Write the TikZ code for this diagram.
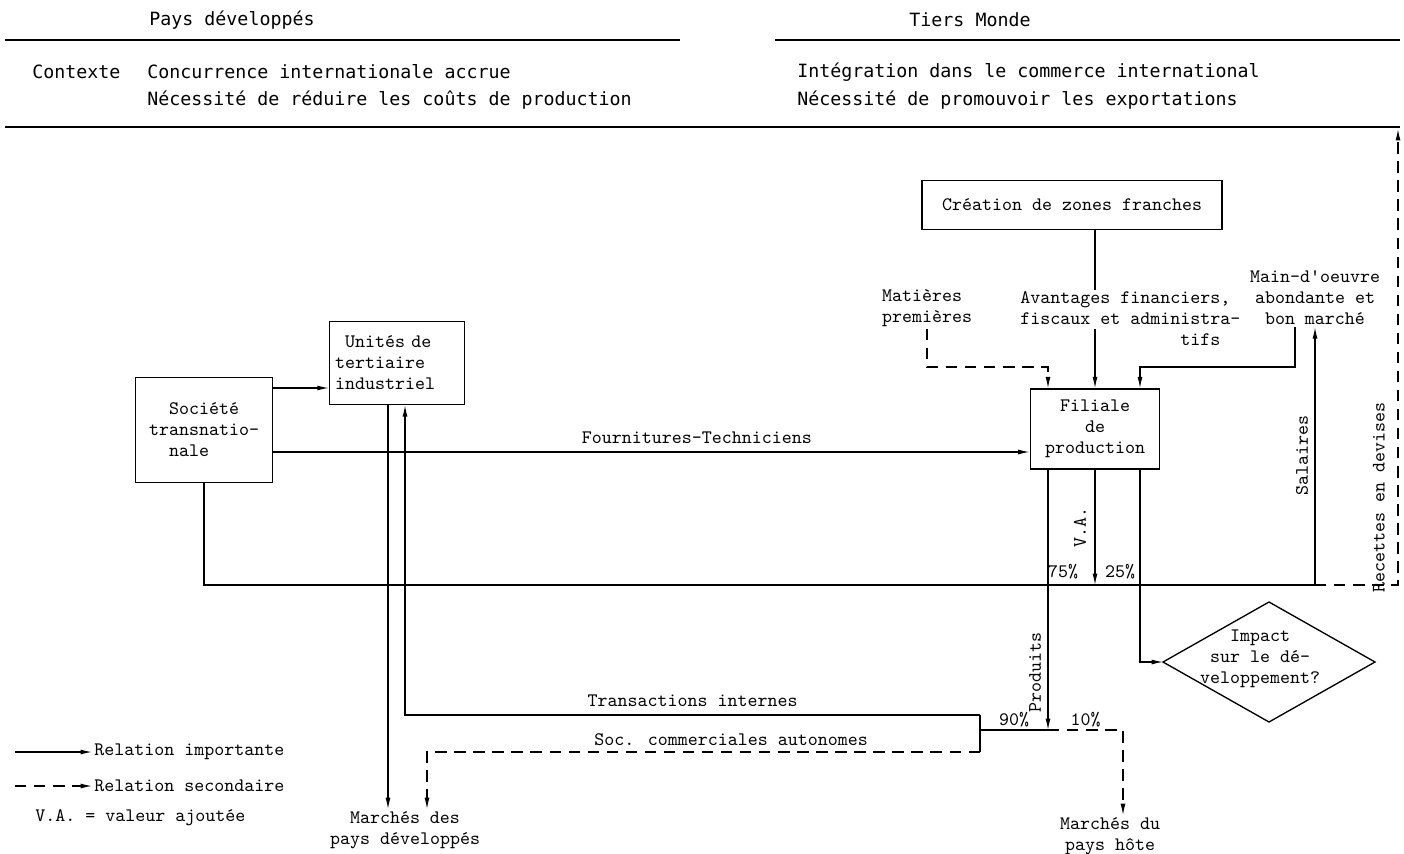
\documentclass[tikz,border=0pt]{standalone}
\usepackage{fontspec}
\usetikzlibrary{arrows.meta,positioning,shapes.geometric}
\newfontfamily\headfont{DejaVu Sans Mono}
\tikzset{
  rel/.style={black, -{Latex[length=6pt,width=2.6pt]}, line width=0.6pt},
  relsec/.style={rel, dash pattern=on 6pt off 4pt},
  link/.style={black, line width=0.6pt},
  rulebar/.style={black, line width=0.9pt},
  boxnode/.style={draw, line width=0.7pt, font=\ttfamily\fontsize{10}{11}\selectfont, inner sep=3pt},
  txtnode/.style={font=\ttfamily\fontsize{10}{11}\selectfont, inner sep=1pt},
  headnode/.style={font=\headfont\fontsize{9.6}{12}\selectfont, inner sep=1pt}
}
\begin{document}
\begin{tikzpicture}[x=0.525pt, y=-0.525pt]
  \useasboundingbox (0,0) rectangle (1404,853);
  % en-tete
  \node[headnode] (pays) at (232,20) {Pays développés};
  \node[headnode] (tiers) at (970,20) {Tiers Monde};
  \node[headnode, anchor=west] (contexte) at (30,72) {Contexte};
  \node[headnode, anchor=west] (concur) at (145,72) {Concurrence internationale accrue};
  \node[headnode, anchor=west] (reduire) at (145,100) {Nécessité de réduire les coûts de production};
  \node[headnode, anchor=west] (integr) at (795,72) {Intégration dans le commerce international};
  \node[headnode, anchor=west] (promouv) at (795,100) {Nécessité de promouvoir les exportations};
  \draw[rulebar] (5,40) -- (680,40);
  \draw[rulebar] (775,40) -- (1400,40);
  \draw[rulebar] (5,127) -- (1400,127);

  % blocs
  \node[boxnode, minimum width=72pt, minimum height=55pt, align=left] (societe) at (204,430) {\phantom{tr}Société\\transnatio-\\\phantom{tr}nale};
  \node[boxnode, text width=65pt, minimum height=43.6pt, align=left] (unites) at (397,363) {\phantom{t}Unités de\\tertiaire\\industriel};
  \node[boxnode, minimum width=68pt, minimum height=42pt, align=center] (filiale) at (1095,429) {Filiale\\de\\production};
  \node[boxnode, minimum width=157.5pt, minimum height=26pt] (creation) at (1072,205) {Création de zones franches};
  \node[txtnode, align=center] (impact) at (1260,659) {Impact\\sur le dé-\\veloppement?};
  \draw[line width=0.7pt] (impact.center) ++(-97,3) coordinate (impactw) -- ++(106,-60) -- ++(106,60) -- ++(-106,60) -- cycle;

  % textes libres
  \node[txtnode, align=left] (matieres) at (927,308) {Matières\\premières};
  \node[txtnode, align=left, anchor=west] (avantages) at (1018,319) {Avantages financiers,\\fiscaux et administra-\\\phantom{fiscaux et admin}tifs};
  \node[txtnode, align=center] (maindoeuvre) at (1315,298) {Main-d'oeuvre\\abondante et\\bon marché};
  \node[txtnode, align=center] (marchesdev) at (405,830) {Marchés des\\pays développés};
  \node[txtnode, align=center] (marcheshote) at (1110,836) {Marchés du\\pays hôte};
  \node[txtnode, rotate=90] (va) at (1080,527) {V.A.};
  \node[txtnode, rotate=90] (produits) at (1035,672) {Produits};
  \node[txtnode, rotate=90] (salaires) at (1302,455) {Salaires};
  \node[txtnode, rotate=90] (recettes) at (1379,497) {Recettes en devises};
  \node[txtnode] (pct75) at (1063,572) {75\%};
  \node[txtnode] (pct25) at (1120,572) {25\%};

  \coordinate (salfoot) at (1315,585);
  \coordinate (recfoot) at (1398,585);
  \coordinate (rectop) at (1398,129);
  \coordinate (prodfoot) at (1048,730);
  \coordinate (split) at (980,730);
  \coordinate (transfoot) at (980,715);
  \coordinate (socfoot) at (980,752);

  % liaisons
  \draw[rel] (societe.east |- 0,388) -- (unites.west |- 0,388);
  \draw[rel] (societe.east |- 0,452) -- node[txtnode, above=3pt, pos=0.56] (fourn) {Fournitures-Techniciens} (filiale.west |- 0,452);
  \draw[link] (societe.south) |- (salfoot);
  \draw[rel] (salfoot) -- (salfoot |- maindoeuvre.south);
  \draw[relsec] (salfoot) -- (recfoot) -- (rectop);
  \draw[link] (creation.south -| filiale.north) -- (avantages.north -| filiale.north);
  \draw[rel] ([yshift=10pt]avantages.south -| filiale.north) -- (filiale.north);
  \draw[relsec] (matieres.south) |- (1048,367) -- (filiale.north -| 1048,0);
  \draw[rel] (maindoeuvre.south -| 1295,0) |- (1140,367) -- (filiale.north -| 1140,0);
  \draw[rel] (filiale.south) -- (filiale.south |- salfoot);
  \draw[rel] (filiale.south -| prodfoot) -- (prodfoot);
  \draw[rel] (filiale.south -| 1140,0) |- (impactw);
  \draw[link] (prodfoot) -- node[txtnode, above] (pct90) {90\%} (split);
  \draw[link] (transfoot) -- (socfoot);
  \draw[rel] (transfoot) -- node[txtnode, above=3pt] (transint) {Transactions internes} (transfoot -| 405,0) -- (unites.south -| 405,0);
  \draw[relsec] (socfoot) -- node[txtnode, above=2pt, pos=0.45] (soccom) {Soc. commerciales autonomes} (socfoot -| 427,0) -- (marchesdev.north -| 427,0);
  \draw[rel] (unites.south -| 388,0) -- (marchesdev.north -| 388,0);
  \draw[relsec] (prodfoot) -- node[txtnode, above] (pct10) {10\%} (prodfoot -| 1123,0) -- (marcheshote.north -| 1123,0);

  % legende
  \coordinate (legimp) at (15,752);
  \coordinate (legsec) at (15,786);
  \node[txtnode, anchor=west] (relimp) at (92,752) {Relation importante};
  \node[txtnode, anchor=west] (relsecond) at (92,786) {Relation secondaire};
  \node[txtnode, anchor=west] (vadef) at (33,818) {V.A. = valeur ajoutée};
  \draw[rel] (legimp) -- (relimp.west);
  \draw[relsec] (legsec) -- (relsecond.west);
\end{tikzpicture}
\end{document}
